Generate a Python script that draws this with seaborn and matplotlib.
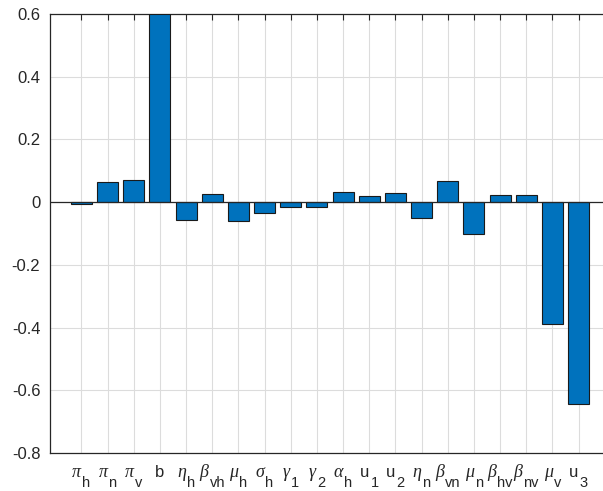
import matplotlib
matplotlib.use("Agg")
import matplotlib.pyplot as plt
import seaborn as sns
import pandas as pd

# Sensitivity indices of the model parameters
symbols = ["π", "π", "π", "b", "η", "β", "μ", "σ", "γ", "γ", "α", "u", "u",
           "η", "β", "μ", "β", "β", "μ", "u"]
subscripts = ["h", "n", "v", "", "h", "vh", "h", "h", "1", "2", "h", "1", "2",
              "n", "vn", "n", "hv", "nv", "v", "3"]
params = [s + ("_" + sub if sub else "") for s, sub in zip(symbols, subscripts)]
sensitivity = [-0.006, 0.063, 0.070, 0.60, -0.057, 0.025, -0.061, -0.034,
               -0.017, -0.015, 0.033, 0.020, 0.030, -0.051, 0.067, -0.103,
               0.024, 0.024, -0.389, -0.645]
yticks = [-0.8, -0.6, -0.4, -0.2, 0, 0.2, 0.4, 0.6]

sns.set_style("white")
plt.rcParams["font.family"] = ["Liberation Sans", "DejaVu Sans"]

df = pd.DataFrame({"param": params, "value": sensitivity})

fig = plt.figure(figsize=(6.03, 4.91), dpi=100)
ax = fig.add_axes([50 / 603, 1 - 453 / 491, 560 / 603, 439 / 491])

sns.barplot(data=df, x="param", y="value", order=params, color="#0072BD",
            saturation=1, width=0.8, edgecolor="#1a1a1a", linewidth=0.8,
            ax=ax, zorder=3)

ax.axhline(0, color="#262626", linewidth=0.9, zorder=4)
ax.set_xlim(-1.2, 20.2)
ax.set_ylim(-0.8, 0.6)
ax.set_yticks(yticks)
ax.set_yticklabels([f"{t:g}" for t in yticks])
ax.set_xlabel("")
ax.set_ylabel("")

ax.grid(True, color="#dcdcdc", linewidth=0.8, zorder=0)
ax.set_axisbelow(True)
for s in ax.spines.values():
    s.set_color("#262626")
    s.set_linewidth(0.9)
ax.tick_params(direction="in", length=4, width=0.8, color="#262626",
               top=True, right=True, labelsize=12, labelcolor="#262626", pad=7)
ax.tick_params(axis="x", labelbottom=False)

# Parameter names: symbol with a lowered, nearly same-sized subscript
greek = set("πηβμσγα")
xtr = ax.get_xaxis_transform()
main_dy, sub_dy = -24, -34
pairs = []
for i, (sym, sub) in enumerate(zip(symbols, subscripts)):
    if sym in greek:
        kw = dict(family="Liberation Serif", style="italic", fontsize=13)
    else:
        kw = dict(family="Liberation Sans", fontsize=12)
    main = ax.annotate(sym, xy=(i, 0), xycoords=xtr, xytext=(0, main_dy),
                       textcoords="offset pixels", ha="left", va="baseline",
                       color="#262626", annotation_clip=False, **kw)
    low = ax.annotate(sub, xy=(i, 0), xycoords=xtr, xytext=(0, sub_dy),
                      textcoords="offset pixels", ha="left", va="baseline",
                      color="#262626", fontsize=10.5, family="Liberation Sans",
                      annotation_clip=False)
    pairs.append((main, low))

fig.canvas.draw()
renderer = fig.canvas.get_renderer()
for main, low in pairs:
    w1 = main.get_window_extent(renderer).width
    w2 = low.get_window_extent(renderer).width if low.get_text() else 0
    gap = 1 if w2 else 0
    total = w1 + gap + w2
    main.xyann = (-total / 2, main_dy)
    low.xyann = (-total / 2 + w1 + gap, sub_dy)

fig.savefig("out.png", dpi=100)
